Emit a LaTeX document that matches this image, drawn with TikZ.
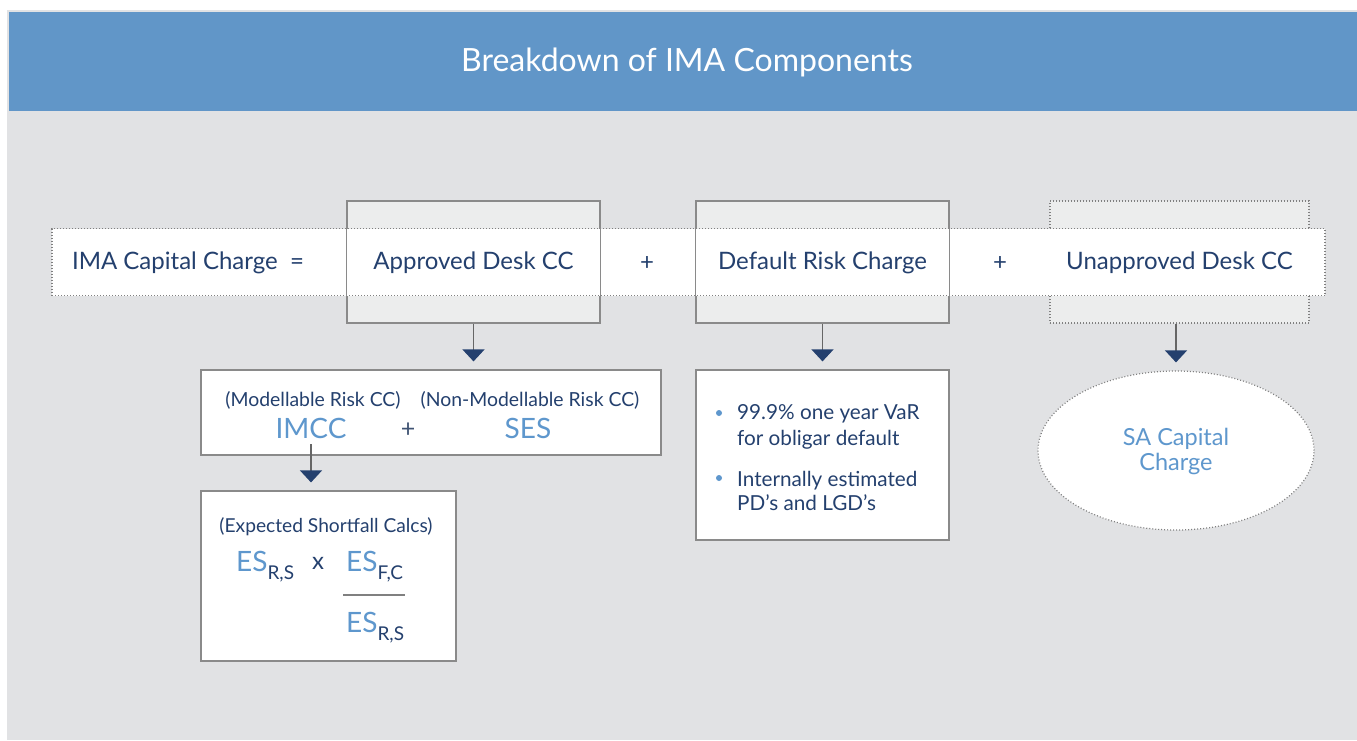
\documentclass[tikz,border=0pt]{standalone}
\usepackage{fontspec}
\setmainfont{Lato}
\usetikzlibrary{arrows.meta,shapes.geometric}
\definecolor{banner}{HTML}{6196C8}
\definecolor{bg}{HTML}{E1E2E4}
\definecolor{navy}{HTML}{24406E}
\definecolor{lblue}{HTML}{5E97CD}
\definecolor{boxgray}{HTML}{ECEDED}
\definecolor{edge}{HTML}{8A8A8A}
\newcommand{\fs}[1]{\fontsize{#1}{#1}\selectfont}
\newcommand{\ESsub}[1]{{\color{lblue}\fs{28}ES}\raisebox{-8pt}{\color{navy}\fs{19}#1}}
\begin{document}
\begin{tikzpicture}[x=1pt,y=-1pt,
  tallbox/.style={fill=boxgray,draw=edge,line width=1.2pt,inner sep=0pt},
  dotbox/.style={fill=boxgray,draw=gray,line width=1.2pt,dash pattern=on 1pt off 2pt,inner sep=0pt},
  band/.style={fill=white,draw=gray,line width=1.2pt,dash pattern=on 1pt off 2pt,inner sep=0pt},
  wbox/.style={fill=white,draw=edge,line width=1.2pt,inner sep=0pt},
  txt/.style={text=navy,font=\fs{24},inner sep=0pt},
  conn/.style={draw=gray!80!black,line width=1.2pt,-{Triangle[width=22pt,length=12pt,fill=navy,color=navy]}}]
\useasboundingbox (0,0) rectangle (1357,740);
\fill[white] (0,0) rectangle (1357,740);
\fill[bg] (7,10) rectangle (1357,740);
\fill[banner] (9,12) rectangle (1357,111);
\node[text=white,font=\fs{32}] (title) at (687,62) {Breakdown of IMA Components};
% top boxes (fill)
\node[tallbox,minimum width=253pt,minimum height=122pt] (adcc) at (473.5,262) {};
\node[tallbox,minimum width=253pt,minimum height=122pt] (drc) at (822.5,262) {};
\node[dotbox,minimum width=259pt,minimum height=122pt] (udcc) at (1179.5,262) {};
% band
\node[band,minimum width=1273pt,minimum height=67pt] (band) at (688.5,262) {};
% borders again on top
\draw[edge,line width=1.2pt] (adcc.north west) rectangle (adcc.south east);
\draw[edge,line width=1.2pt] (drc.north west) rectangle (drc.south east);
\node[txt] (ima) at (188,263) {IMA Capital Charge\ \ =};
\node[txt] (adcct) at ([yshift=-1pt]adcc.center) {Approved Desk CC};
\node[txt] (p1) at (647,263) {+};
\node[txt] (drct) at ([yshift=-1pt]drc.center) {Default Risk Charge};
\node[txt] (p2) at (1000,263) {+};
\node[txt] (udcct) at ([yshift=-1pt]udcc.center) {Unapproved Desk CC};
% second row
\node[wbox,minimum width=460pt,minimum height=85pt] (imbox) at (431,412.5) {};
\node[txt,font=\fs{19.4}] (modl) at (313,400) {(Modellable Risk CC)};
\node[txt,font=\fs{19.4}] (nmodl) at (530,400) {(Non-Modellable Risk CC)};
\node[text=lblue,font=\fs{28},inner sep=0pt] (imcc) at (311,428) {IMCC};
\node[text=navy!70!gray,font=\fs{25},inner sep=0pt] (p3) at (408,430) {+};
\node[text=lblue,font=\fs{28},inner sep=0pt] (ses) at (528,428) {SES};
\node[wbox,minimum width=253pt,minimum height=170pt] (drbox) at (822.5,455) {};
\fill[lblue] (719,413) circle (3pt);
\fill[lblue] (719,478) circle (3pt);
\node[txt,font=\fs{20.7},anchor=west,align=left] (b1) at (737,427) {99.9\% one year VaR\\[5pt]for obligar default};
\node[txt,font=\fs{20.7},anchor=west,align=left] (b2) at (737,491) {Internally estimated\\[4pt]PD’s and LGD’s};
\node[ellipse,fill=white,draw=gray,line width=1.2pt,dash pattern=on 1pt off 2pt,minimum width=276pt,minimum height=159pt,inner sep=0pt] (sa) at (1176,450.5) {};
\node[text=lblue,font=\fs{23.5},align=center,inner sep=0pt] (sat) at ([yshift=-1pt]sa.center) {SA Capital\\[2pt]Charge};
% third row
\node[wbox,minimum width=255pt,minimum height=170pt] (esbox) at (328.5,576) {};
\node[txt,font=\fs{19.2}] (esc) at (326,527) {(Expected Shortfall Calcs)};
\node[inner sep=0pt,anchor=base west] (es1) at (236,571) {\ESsub{R,S}};
\node[txt,font=\fs{24},anchor=base] (times) at (318,569) {x};
\node[inner sep=0pt,anchor=base west] (es2) at (346,571) {\ESsub{F,C}};
\draw[gray,line width=1.2pt] (343,595) -- (405,595);
\node[inner sep=0pt,anchor=base west] (es3) at (346,632) {\ESsub{R,S}};
% connectors
\draw[conn] (adcc.south) -- ([yshift=8pt]adcc.south |- imbox.north);
\draw[conn] (drc.south) -- ([yshift=8pt]drbox.north);
\draw[conn] (udcc.south -| sa.north) -- ([yshift=8pt]sa.north);
\draw[conn] ([yshift=-6pt]imcc.south) -- ([yshift=8pt]imcc.south |- esbox.north);
\end{tikzpicture}
\end{document}
